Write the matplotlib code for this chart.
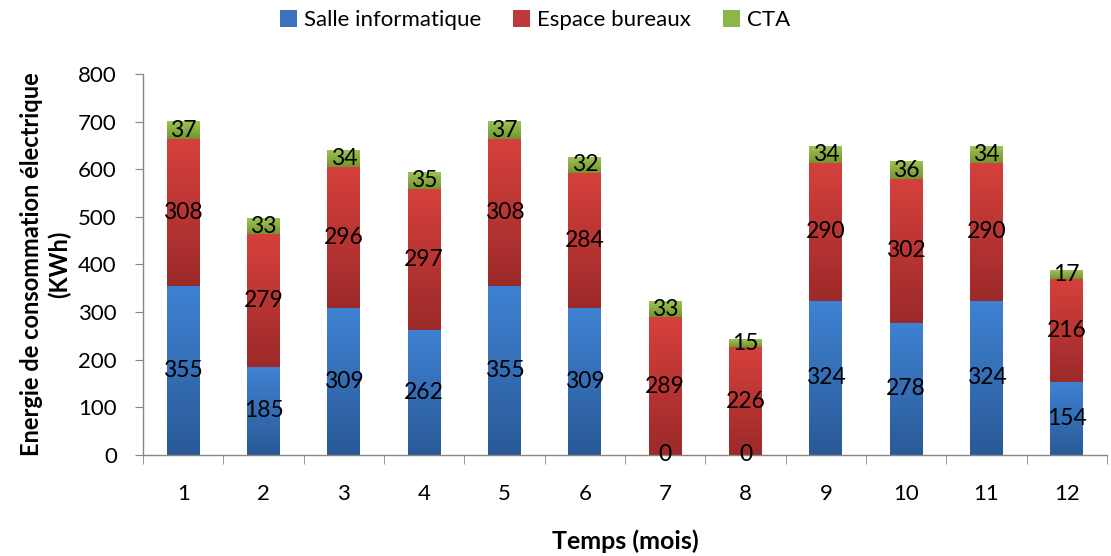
import numpy as np
import matplotlib
matplotlib.use("Agg")
import matplotlib.pyplot as plt
from matplotlib.colors import LinearSegmentedColormap
from matplotlib.patches import Patch

plt.rcParams['font.family'] = ['Lato', 'DejaVu Sans']

months = ['1', '2', '3', '4', '5', '6', '7', '8', '9', '10', '11', '12']
salle = [355, 185, 309, 262, 355, 309, 0, 0, 324, 278, 324, 154]
bureaux = [308, 279, 296, 297, 308, 284, 289, 226, 290, 302, 290, 216]
cta = [37, 33, 34, 35, 37, 32, 33, 15, 34, 36, 34, 17]
series_names = ['Salle informatique', 'Espace bureaux', 'CTA']
yticks = [0, 100, 200, 300, 400, 500, 600, 700, 800]

grads = [('#3f82d3', '#2a5a97'), ('#d6403c', '#9c2a2a'), ('#9dc254', '#74952f')]
legend_cols = ['#3a72bb', '#c0393a', '#8db64a']

fig = plt.figure(figsize=(11.11, 5.56), dpi=100)
ax = fig.add_axes([0.1287, 0.1817, 0.8677, 0.6853])

x = np.arange(len(months))
width = 0.41
bottom = np.zeros(len(months))
for vals, (ctop, cbot) in zip([salle, bureaux, cta], grads):
    bars = ax.bar(x, vals, width, bottom=bottom, color='none', edgecolor='none', zorder=2)
    cmap = LinearSegmentedColormap.from_list('g', [cbot, ctop])
    grad = np.linspace(0, 1, 64).reshape(-1, 1)
    for b, v in zip(bars, vals):
        x0, y0 = b.get_x(), b.get_y()
        w, h = b.get_width(), b.get_height()
        if h > 0:
            ax.imshow(grad, extent=[x0, x0 + w, y0, y0 + h], origin='lower',
                      cmap=cmap, aspect='auto', zorder=2, interpolation='bilinear')
        ax.text(x0 + w / 2, y0 + h / 2, str(v), ha='center', va='center',
                fontsize=16.5, color='black', zorder=4, clip_on=False)
    bottom = bottom + np.array(vals)

ax.set_xlim(-0.5, len(months) - 0.5)
ax.set_ylim(0, 800)
ax.set_yticks(yticks)
ax.set_yticklabels([str(t) for t in yticks], fontsize=16)
ax.set_xticks(x)
ax.set_xticklabels(months, fontsize=16)
ax.set_xticks(np.arange(-0.5, len(months), 1), minor=True)
ax.tick_params(axis='x', which='major', length=0, pad=21)
ax.tick_params(axis='x', which='minor', length=6.5, color='#868686', direction='out')
ax.tick_params(axis='y', which='major', length=5.8, color='#868686', direction='out', pad=13)

for s in ['top', 'right']:
    ax.spines[s].set_visible(False)
for s in ['left', 'bottom']:
    ax.spines[s].set_color('#868686')
    ax.spines[s].set_linewidth(1)

ax.set_xlabel('Temps (mois)', fontsize=18, fontweight='bold')
ax.xaxis.set_label_coords(0.5, -0.226)
ax.xaxis.label.set_va('center')
ax.set_ylabel('Energie de consommation électrique\n(KWh)', fontsize=17,
              fontweight='bold', linespacing=1.25)
ax.yaxis.set_label_coords(-0.1010, 0.5)
ax.yaxis.label.set_va('center')

handles = [Patch(facecolor=c, edgecolor='none') for c in legend_cols]
fig.legend(handles, series_names, loc='center', bbox_to_anchor=(0.4815, 1 - 20 / 556),
           ncol=3, frameon=False, fontsize=16, handlelength=0.77, handleheight=0.77,
           columnspacing=1.44, handletextpad=0.3, borderpad=0)

fig.savefig('out.png', dpi=100)
